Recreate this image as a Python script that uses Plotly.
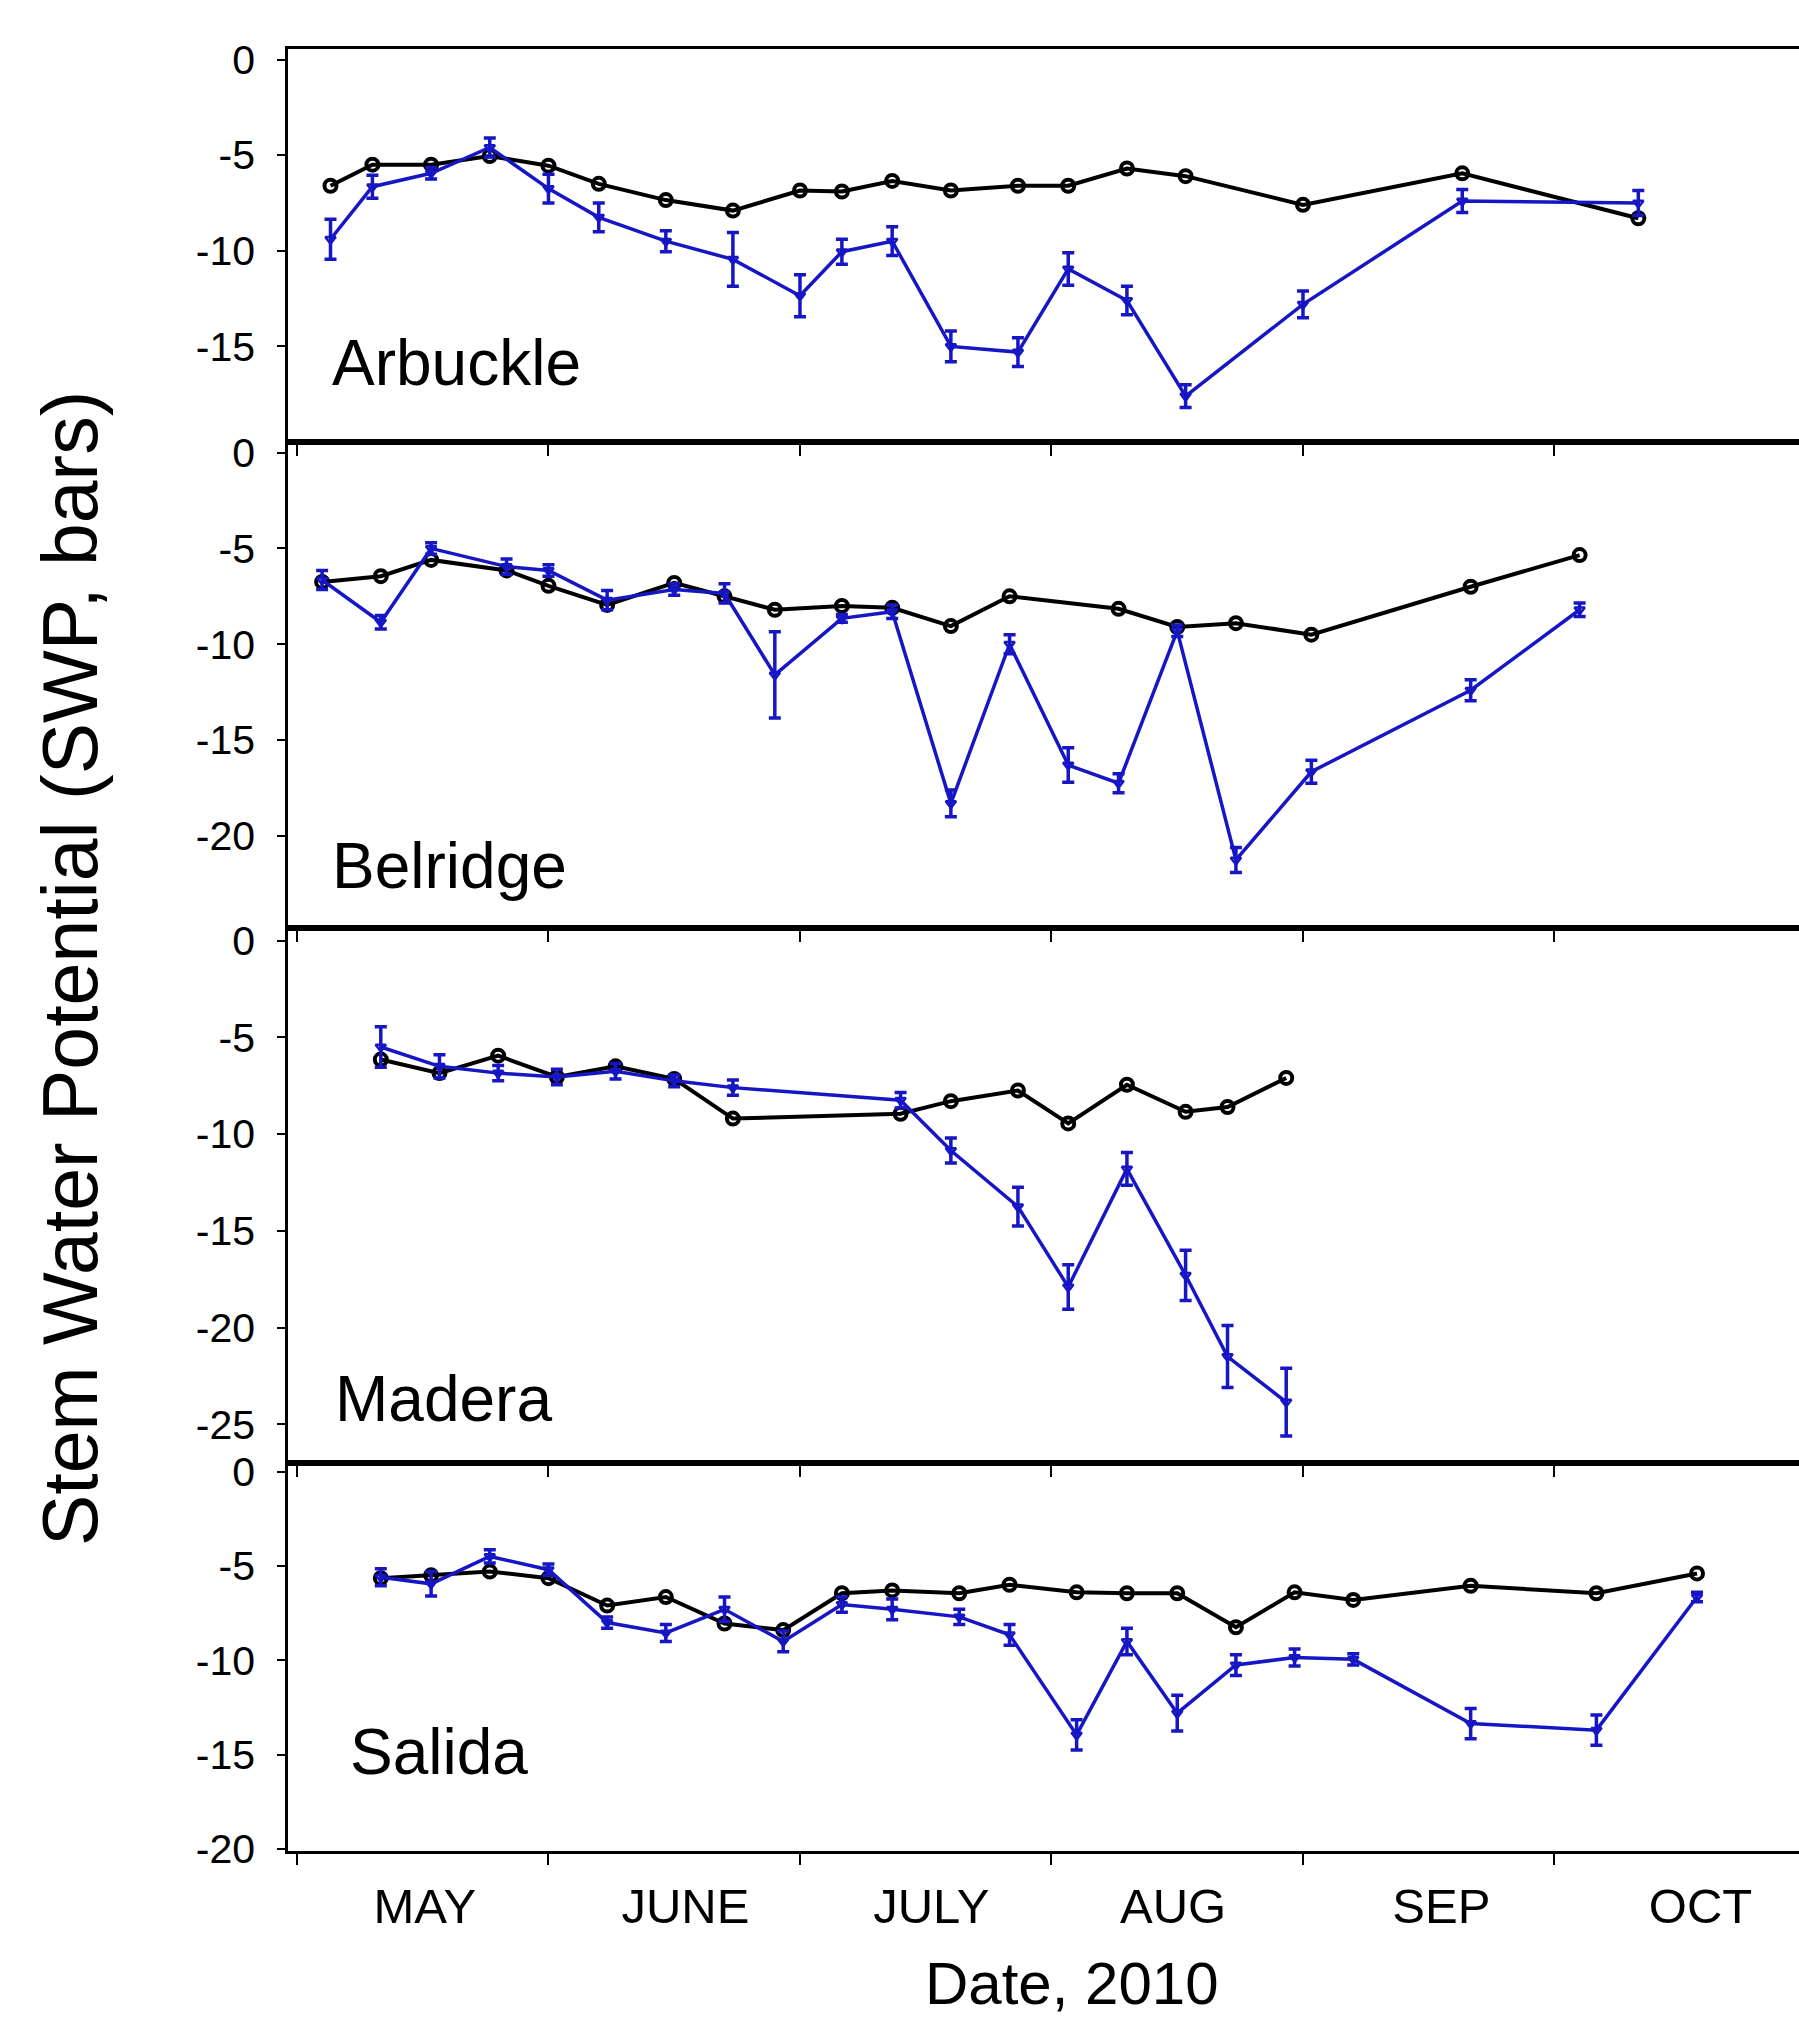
import plotly.graph_objects as go

# ---------------- data ----------------
sites = ["Arbuckle", "Belridge", "Madera", "Salida"]

arb_dates = ["2010-05-04", "2010-05-09", "2010-05-16", "2010-05-23", "2010-05-30", "2010-06-05",
             "2010-06-13", "2010-06-21", "2010-06-29", "2010-07-04", "2010-07-10", "2010-07-17",
             "2010-07-25", "2010-07-31", "2010-08-07", "2010-08-14", "2010-08-28", "2010-09-16",
             "2010-10-07"]
arb_ctrl = [-6.6, -5.5, -5.5, -5.05, -5.55, -6.5, -7.35, -7.9, -6.85, -6.9, -6.35, -6.85,
            -6.6, -6.6, -5.7, -6.1, -7.6, -5.95, -8.3]
arb_def = [-9.4, -6.65, -5.95, -4.6, -6.75, -8.25, -9.5, -10.45, -12.35, -10.05, -9.5, -15.0,
           -15.3, -10.95, -12.6, -17.6, -12.8, -7.4, -7.5]
arb_err = [1.05, 0.6, 0.3, 0.5, 0.75, 0.75, 0.55, 1.4, 1.1, 0.65, 0.75, 0.8,
           0.75, 0.85, 0.75, 0.6, 0.7, 0.6, 0.65]

bel_ctrl_dates = ["2010-05-03", "2010-05-10", "2010-05-16", "2010-05-25", "2010-05-30", "2010-06-06",
                  "2010-06-14", "2010-06-20", "2010-06-26", "2010-07-04", "2010-07-10", "2010-07-17",
                  "2010-07-24", "2010-08-06", "2010-08-13", "2010-08-20", "2010-08-29", "2010-09-17",
                  "2010-09-30"]
bel_ctrl = [-6.75, -6.45, -5.6, -6.15, -6.95, -7.95, -6.8, -7.5, -8.2, -8.0, -8.1, -9.05,
            -7.5, -8.15, -9.1, -8.9, -9.5, -7.0, -5.35]
bel_def_dates = ["2010-05-03", "2010-05-10", "2010-05-16", "2010-05-25", "2010-05-30", "2010-06-06",
                 "2010-06-14", "2010-06-20", "2010-06-26", "2010-07-04", "2010-07-10", "2010-07-17",
                 "2010-07-24", "2010-07-31", "2010-08-06", "2010-08-13", "2010-08-20", "2010-08-29",
                 "2010-09-17", "2010-09-30"]
bel_def = [-6.65, -8.85, -5.0, -5.95, -6.15, -7.7, -7.15, -7.35, -11.6, -8.65, -8.3, -18.3,
           -10.0, -16.3, -17.25, -9.3, -21.25, -16.65, -12.4, -8.2]
bel_err = [0.5, 0.35, 0.3, 0.4, 0.3, 0.5, 0.3, 0.5, 2.25, 0.2, 0.35, 0.7,
           0.5, 0.9, 0.5, 0.3, 0.65, 0.6, 0.55, 0.35]

mad_dates = ["2010-05-10", "2010-05-17", "2010-05-24", "2010-05-31", "2010-06-07", "2010-06-14",
             "2010-06-21", "2010-07-11", "2010-07-17", "2010-07-25", "2010-07-31", "2010-08-07",
             "2010-08-14", "2010-08-19", "2010-08-26"]
mad_ctrl = [-6.15, -6.85, -5.95, -7.05, -6.5, -7.15, -9.2, -8.95, -8.3, -7.75, -9.45, -7.45,
            -8.85, -8.6, -7.1]
mad_def = [-5.5, -6.5, -6.85, -7.05, -6.75, -7.25, -7.6, -8.25, -10.85, -13.75, -17.9, -11.8,
           -17.3, -21.5, -23.85]
mad_err = [1.05, 0.6, 0.4, 0.4, 0.4, 0.3, 0.4, 0.4, 0.65, 1.0, 1.15, 0.85, 1.3, 1.6, 1.75]

sal_dates = ["2010-05-10", "2010-05-16", "2010-05-23", "2010-05-30", "2010-06-06", "2010-06-13",
             "2010-06-20", "2010-06-27", "2010-07-04", "2010-07-10", "2010-07-18", "2010-07-24",
             "2010-08-01", "2010-08-07", "2010-08-13", "2010-08-20", "2010-08-27", "2010-09-03",
             "2010-09-17", "2010-10-02", "2010-10-14"]
sal_ctrl = [-5.65, -5.5, -5.3, -5.65, -7.1, -6.65, -8.05, -8.4, -6.45, -6.3, -6.45, -6.0,
            -6.4, -6.45, -6.45, -8.25, -6.4, -6.8, -6.05, -6.45, -5.4]
sal_def = [-5.6, -5.95, -4.5, -5.2, -8.0, -8.55, -7.3, -9.0, -7.05, -7.3, -7.7, -8.65,
           -13.95, -9.0, -12.8, -10.25, -9.85, -9.95, -13.35, -13.7, -6.65]
sal_err = [0.45, 0.65, 0.35, 0.3, 0.3, 0.45, 0.65, 0.55, 0.4, 0.55, 0.4, 0.55,
           0.8, 0.7, 0.95, 0.55, 0.45, 0.3, 0.8, 0.8, 0.25]

month_labels = ["MAY", "JUNE", "JULY", "AUG", "SEP", "OCT"]
month_label_pos = ["2010-05-15 06:00", "2010-06-15 08:00", "2010-07-14 16:00",
                   "2010-08-12 12:00", "2010-09-13 12:00", "2010-10-14 10:00"]
month_ticks = ["2010-04-30", "2010-05-30", "2010-06-29", "2010-07-29", "2010-08-28", "2010-09-27"]

y_ticks = [[0, -5, -10, -15], [0, -5, -10, -15, -20], [0, -5, -10, -15, -20, -25],
           [0, -5, -10, -15, -20]]
y_ranges = [[-20.0, 0.55], [-24.8, 0.55], [-27.0, 0.65], [-20.1, 0.45]]

# ---------------- figure ----------------
BLUE = "#1616C4"
FONT = "Liberation Sans, Arial, sans-serif"

panels = [
    (arb_dates, arb_ctrl, arb_dates, arb_def, arb_err),
    (bel_ctrl_dates, bel_ctrl, bel_def_dates, bel_def, bel_err),
    (mad_dates, mad_ctrl, mad_dates, mad_def, mad_err),
    (sal_dates, sal_ctrl, sal_dates, sal_def, sal_err),
]

top_px, bot_px = 49, 1851
edges = [49, 442, 928, 1463, 1851]
H = bot_px - top_px

fig = go.Figure()
for i, (cd, cv, dd, dv, de) in enumerate(panels):
    xa = "x" if i == 0 else f"x{i+1}"
    ya = "y" if i == 0 else f"y{i+1}"
    fig.add_trace(go.Scatter(
        x=cd, y=cv, xaxis=xa, yaxis=ya, mode="lines+markers",
        line=dict(color="black", width=4),
        marker=dict(symbol="circle-open", size=12, color="black", line=dict(width=4, color="black")),
        showlegend=False, cliponaxis=False))
    fig.add_trace(go.Scatter(
        x=dd, y=dv, xaxis=xa, yaxis=ya, mode="lines+markers",
        line=dict(color=BLUE, width=3.5),
        marker=dict(symbol="triangle-down-open", size=9, color=BLUE, line=dict(width=2.5, color=BLUE)),
        error_y=dict(type="data", array=de, visible=True, color=BLUE, thickness=3.5, width=6),
        showlegend=False, cliponaxis=False))

layout = dict(
    width=1799, height=2021,
    margin=dict(l=288, r=0, t=top_px, b=2021 - bot_px),
    paper_bgcolor="white", plot_bgcolor="white",
    font=dict(family=FONT, color="black"),
)

xrange = ["2010-04-28 22:20", "2010-10-26 04:00"]
for i in range(4):
    xk = "xaxis" if i == 0 else f"xaxis{i+1}"
    yk = "yaxis" if i == 0 else f"yaxis{i+1}"
    ya = "y" if i == 0 else f"y{i+1}"
    d0 = (bot_px - edges[i + 1]) / H
    d1 = (bot_px - edges[i]) / H
    layout[xk] = dict(
        type="date", range=xrange, domain=[0, 1], anchor=ya,
        showline=True, linecolor="black", linewidth=3, mirror=True,
        showgrid=False, zeroline=False,
        tickmode="array", tickvals=month_label_pos, ticktext=month_labels,
        ticks="", showticklabels=(i == 3),
        tickfont=dict(size=49, family=FONT, color="black"),
        ticklabelstandoff=10,
        minor=dict(tickmode="array", tickvals=month_ticks, ticks="outside",
                   ticklen=11, tickwidth=2, tickcolor="black", showgrid=False),
    )
    layout[yk] = dict(
        domain=[max(0, d0), min(1, d1)], range=y_ranges[i], anchor="x" if i == 0 else f"x{i+1}",
        showline=True, linecolor="black", linewidth=2.5, mirror=False,
        showgrid=False, zeroline=False,
        tickmode="array", tickvals=y_ticks[i], ticktext=[str(v) for v in y_ticks[i]],
        ticks="outside", ticklen=8, tickwidth=2, tickcolor="black",
        tickfont=dict(size=41, family=FONT, color="black"),
        ticklabelstandoff=14,
    )

fig.update_layout(**layout)

label_pos = [(0.028, 0.20), (0.028, 0.128), (0.0295, 0.119), (0.040, 0.254)]
for i, name in enumerate(sites):
    fig.add_annotation(
        text=name, xref=("x domain" if i == 0 else f"x{i+1} domain"),
        yref=("y domain" if i == 0 else f"y{i+1} domain"),
        x=label_pos[i][0], y=label_pos[i][1], xanchor="left", yanchor="middle",
        showarrow=False, font=dict(size=64, family=FONT, color="black"))

fig.add_annotation(text="Stem Water Potential (SWP, bars)", xref="paper", yref="paper",
                   x=(70 - 288) / 1511, y=(bot_px - 969) / H, textangle=-90,
                   xanchor="center", yanchor="middle", showarrow=False,
                   font=dict(size=77, family=FONT, color="black"))
fig.add_annotation(text="Date, 2010", xref="paper", yref="paper",
                   x=(1072 - 288) / 1511, y=(bot_px - 2019) / H,
                   xanchor="center", yanchor="bottom", showarrow=False,
                   font=dict(size=60, family=FONT, color="black"))

fig.write_html("out.html")
